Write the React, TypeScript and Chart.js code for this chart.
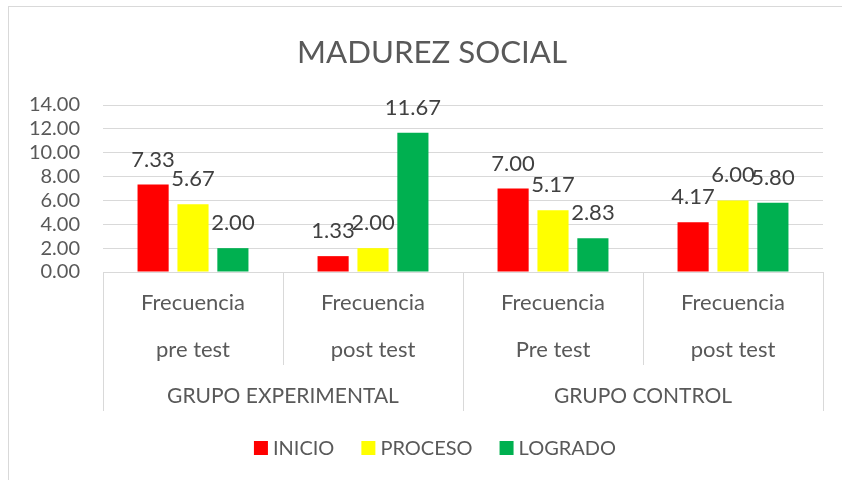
import React, { useEffect, useRef } from "react";
import { Chart, registerables } from "chart.js";

Chart.register(...registerables);

const TITLE = "MADUREZ SOCIAL";
const categoryLine1 = ["Frecuencia", "Frecuencia", "Frecuencia", "Frecuencia"];
const categoryLine2 = ["pre test", "post test", "Pre test", "post test"];
const groupNames = ["GRUPO EXPERIMENTAL", "GRUPO CONTROL"];
const groupSizes = [2, 2];
const seriesNames = ["INICIO", "PROCESO", "LOGRADO"];
const inicio = [7.33, 1.33, 7.0, 4.17];
const proceso = [5.67, 2.0, 5.17, 6.0];
const logrado = [2.0, 11.67, 2.83, 5.8];
const seriesColors = ["#FF0000", "#FFFF00", "#00B050"];
const yMax = 14;
const yStep = 2;

const FONT = "Lato, 'Open Sans', sans-serif";
const TEXT = "#595959";
const LINE = "#D9D9D9";

const decorPlugin = {
  id: "decor",
  afterDraw(chart: any) {
    const ctx = chart.ctx as CanvasRenderingContext2D;
    const area = chart.chartArea;
    const xs = chart.scales.x;
    ctx.save();

    // outer chart border
    ctx.strokeStyle = LINE;
    ctx.lineWidth = 1;
    ctx.strokeRect(8.5, 6.5, 900, 600);

    // title
    ctx.fillStyle = TEXT;
    let size = 34;
    ctx.font = `${size}px ${FONT}`;
    const w = ctx.measureText(TITLE).width;
    size = (size * 270) / w;
    ctx.font = `${size}px ${FONT}`;
    ctx.textAlign = "center";
    ctx.textBaseline = "alphabetic";
    ctx.fillText(TITLE, 432, 63);

    // data labels
    ctx.font = `22px ${FONT}`;
    ctx.fillStyle = "#404040";
    chart.data.datasets.forEach((ds: any, di: number) => {
      const meta = chart.getDatasetMeta(di);
      meta.data.forEach((el: any, i: number) => {
        const v = ds.data[i] as number;
        ctx.fillText(v.toFixed(2), el.x, el.y - 18);
      });
    });

    // category axis separators
    const n = categoryLine1.length;
    const half = (xs.getPixelForValue(1) - xs.getPixelForValue(0)) / 2;
    const bounds: number[] = [];
    for (let i = 0; i < n; i++) bounds.push(xs.getPixelForValue(i) - half);
    bounds.push(xs.getPixelForValue(n - 1) + half);
    const outer = new Set<number>([0]);
    let acc = 0;
    groupSizes.forEach((s) => {
      acc += s;
      outer.add(acc);
    });
    ctx.strokeStyle = LINE;
    ctx.lineWidth = 1;
    bounds.forEach((b, k) => {
      const x = Math.round(b) + 0.5;
      ctx.beginPath();
      ctx.moveTo(x, area.bottom);
      ctx.lineTo(x, outer.has(k) ? 411 : 365);
      ctx.stroke();
    });

    // category labels
    ctx.fillStyle = TEXT;
    ctx.font = `22px ${FONT}`;
    for (let i = 0; i < n; i++) {
      const x = xs.getPixelForValue(i);
      ctx.fillText(categoryLine1[i], x, 310);
      ctx.fillText(categoryLine2[i], x, 357);
    }
    // group labels
    ctx.font = `21px ${FONT}`;
    let start = 0;
    groupNames.forEach((g, gi) => {
      const end = start + groupSizes[gi];
      const cx = (bounds[start] + bounds[end]) / 2;
      ctx.fillText(g, cx, 403);
      start = end;
    });

    // legend
    ctx.font = `20px ${FONT}`;
    ctx.textAlign = "left";
    const box = 14;
    const gap = 5;
    const spacing = 27;
    const widths = seriesNames.map((s) => box + gap + ctx.measureText(s).width);
    const total = widths.reduce((a, b) => a + b, 0) + spacing * (widths.length - 1);
    let lx = 435 - total / 2;
    chart.data.datasets.forEach((ds: any, di: number) => {
      ctx.fillStyle = ds.backgroundColor;
      ctx.fillRect(lx, 441, box, box);
      ctx.fillStyle = TEXT;
      ctx.fillText(ds.label, lx + box + gap, 455);
      lx += widths[di] + spacing;
    });

    ctx.restore();
  },
};

export default function App() {
  const ref = useRef<HTMLCanvasElement>(null);

  useEffect(() => {
    if (!ref.current) return;
    const labels = categoryLine1.map((a, i) => `${a} ${categoryLine2[i]}`);
    const values = [inicio, proceso, logrado];
    const chart = new Chart(ref.current, {
      type: "bar",
      data: {
        labels,
        datasets: seriesNames.map((name, i) => ({
          label: name,
          data: values[i],
          backgroundColor: seriesColors[i],
          borderWidth: 0,
          barPercentage: 0.78,
          categoryPercentage: 0.665,
        })),
      },
      options: {
        responsive: false,
        animation: false,
        layout: { padding: { top: 105, right: 19, bottom: 0, left: 0 } },
        plugins: {
          legend: { display: false },
          title: { display: false },
          tooltip: { enabled: false },
        },
        scales: {
          x: {
            grid: { display: false },
            border: { display: false },
            ticks: { display: false },
            afterFit: (scale: any) => {
              scale.height = 480 - 272;
            },
          },
          y: {
            min: 0,
            max: yMax,
            ticks: {
              stepSize: yStep,
              autoSkip: false,
              padding: 23,
              color: TEXT,
              font: { family: FONT, size: 20 },
              callback: (v: any) => Number(v).toFixed(2),
            },
            grid: { color: LINE, lineWidth: 1, drawTicks: false },
            border: { display: false },
            afterFit: (scale: any) => {
              scale.width = 103;
            },
          },
        },
      },
      plugins: [decorPlugin],
    });
    return () => chart.destroy();
  }, []);

  return (
    <div style={{ position: "absolute", left: 0, top: 0, width: 842, height: 480, background: "#fff" }}>
      <canvas ref={ref} width={842} height={480} />
    </div>
  );
}
